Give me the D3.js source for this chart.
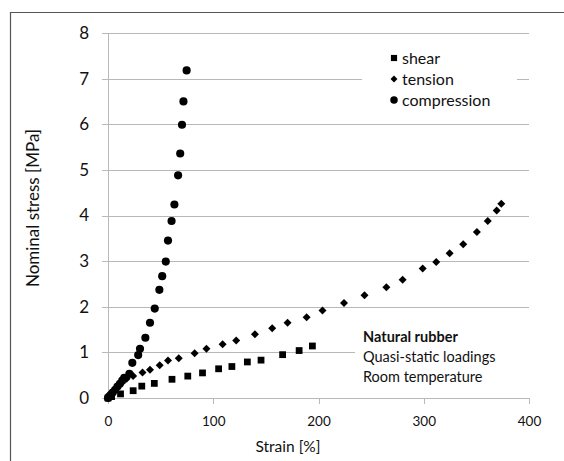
<!DOCTYPE html>
<html>
<head>
<meta charset="utf-8">
<script src="https://cdn.jsdelivr.net/npm/d3@7"></script>
<style>
  html, body { margin: 0; padding: 0; background: #fff; }
  svg { display: block; font-family: Lato, "Open Sans", sans-serif; }
</style>
</head>
<body>
<svg id="chart" width="564" height="461"></svg>
<script>
// Nominal stress vs. strain for natural rubber under three loading modes
const seriesNames = ["shear", "tension", "compression"];

const shearStrain = [0, 3.4, 11.9, 23.9, 32.1, 44.0, 60.8, 75.8, 89.8, 105.1, 117.7, 132.4, 145.4, 165.9, 181.6, 194.2];
const shearStress = [0, 0.03, 0.09, 0.16, 0.26, 0.32, 0.41, 0.48, 0.55, 0.64, 0.69, 0.79, 0.83, 0.95, 1.04, 1.14];

const tensionStrain = [1, 3.4, 7.5, 11.9, 17.7, 23.9, 32.8, 39.9, 49.1, 57.0, 67.2, 82.3, 93.5, 108.9, 121.8, 139.6, 156.0, 170.6, 188.7, 203.8, 224.2, 243.7, 264.5, 279.9, 299.0, 311.9, 324.6, 337.5, 350.5, 360.8, 369.3, 373.7];
const tensionStress = [0.05, 0.12, 0.21, 0.31, 0.42, 0.48, 0.56, 0.62, 0.72, 0.82, 0.87, 0.98, 1.08, 1.18, 1.26, 1.40, 1.53, 1.65, 1.77, 1.92, 2.08, 2.25, 2.43, 2.59, 2.84, 2.98, 3.17, 3.37, 3.64, 3.88, 4.11, 4.26];

const compressionStrain = [0, 1, 2.7, 4.5, 6.8, 9.0, 11.3, 13.5, 15.4, 20.3, 23.1, 28.7, 30.4, 35.5, 39.9, 44.4, 48.8, 51.5, 54.9, 57.0, 60.4, 63.1, 66.6, 68.6, 70.3, 71.7, 74.7];
const compressionStress = [0, 0.03, 0.07, 0.12, 0.18, 0.25, 0.31, 0.38, 0.44, 0.53, 0.77, 0.94, 1.08, 1.32, 1.65, 1.96, 2.37, 2.67, 2.99, 3.45, 3.88, 4.24, 4.88, 5.36, 5.99, 6.50, 7.18];

const xTicks = [0, 100, 200, 300, 400];
const yTicks = [0, 1, 2, 3, 4, 5, 6, 7, 8];
const noteLines = ["Natural rubber", "Quasi-static loadings", "Room temperature"];

const svg = d3.select("#chart");

// outer frame (top and left edges)
svg.append("path")
  .attr("d", "M10.5,461 L10.5,12.5 L564,12.5")
  .attr("fill", "none").attr("stroke", "#555").attr("stroke-width", 1.2);

const x = d3.scaleLinear().domain([0, 400]).range([108, 529]);
const y = d3.scaleLinear().domain([0, 8]).range([398, 33]);

// horizontal gridlines + y tick labels
const yAxis = svg.append("g")
  .attr("transform", `translate(${x(400)},0)`)
  .call(d3.axisLeft(y).tickValues(yTicks).tickSize(x(400) - 102).tickPadding(13).tickFormat(d3.format("d")));
yAxis.select(".domain").remove();
yAxis.selectAll(".tick line").attr("stroke", "#b8b8b8").attr("shape-rendering", "crispEdges");
yAxis.selectAll(".tick text").attr("font-size", 17).attr("fill", "#111")
  .attr("font-family", "Lato, 'Open Sans', sans-serif");

// y axis line
svg.append("line")
  .attr("x1", x(0)).attr("x2", x(0)).attr("y1", y(8)).attr("y2", y(0))
  .attr("stroke", "#b8b8b8").attr("shape-rendering", "crispEdges");

// x axis with ticks pointing down
const xAxis = svg.append("g")
  .attr("transform", `translate(0,${y(0)})`)
  .call(d3.axisBottom(x).tickValues(xTicks).tickSize(6).tickSizeOuter(0).tickPadding(12).tickFormat(d3.format("d")));
xAxis.select(".domain").attr("stroke", "#b8b8b8").attr("shape-rendering", "crispEdges")
  .attr("d", `M102,0.5H${x(400)}`);
xAxis.selectAll(".tick line").attr("stroke", "#b8b8b8").attr("shape-rendering", "crispEdges");
xAxis.selectAll(".tick text").attr("font-size", 13.5).attr("fill", "#111")
  .attr("font-family", "Lato, 'Open Sans', sans-serif");

// white panels behind the legend and the note
svg.append("rect").attr("x", 362).attr("y", 44).attr("width", 155).attr("height", 68).attr("fill", "#fff");
svg.append("rect").attr("x", 355).attr("y", 326).attr("width", 180).attr("height", 60).attr("fill", "#fff");

// axis titles
svg.append("text")
  .attr("x", 288).attr("y", 452).attr("text-anchor", "middle")
  .attr("font-size", 15.5).attr("fill", "#111").text("Strain [%]");
svg.append("text")
  .attr("transform", "translate(39,208) rotate(-90)").attr("text-anchor", "middle")
  .attr("font-size", 17).attr("fill", "#111").text("Nominal stress [MPa]");

// marker shapes
const markers = {
  shear: d3.symbol().type(d3.symbolSquare).size(46)(),
  tension: d3.symbol().type(d3.symbolSquare).size(32)(),
  compression: d3.symbol().type(d3.symbolCircle).size(52)()
};
const rotation = { shear: 0, tension: 45, compression: 0 };

const series = [
  { name: "shear", xs: shearStrain, ys: shearStress },
  { name: "tension", xs: tensionStrain, ys: tensionStress },
  { name: "compression", xs: compressionStrain, ys: compressionStress }
];

series.forEach(s => {
  svg.append("g").selectAll("path")
    .data(s.xs.map((v, i) => [v, s.ys[i]]))
    .join("path")
    .attr("d", markers[s.name])
    .attr("transform", d => `translate(${x(d[0])},${y(d[1])}) rotate(${rotation[s.name]})`)
    .attr("fill", "#000");
});

// legend
const legendMarks = {
  shear: d3.symbol().type(d3.symbolSquare).size(38)(),
  tension: d3.symbol().type(d3.symbolSquare).size(24)(),
  compression: d3.symbol().type(d3.symbolCircle).size(44)()
};
const legend = svg.append("g");
seriesNames.forEach((name, i) => {
  const cy = 58 + i * 21;
  legend.append("path").attr("d", legendMarks[name])
    .attr("transform", `translate(394,${cy}) rotate(${rotation[name]})`).attr("fill", "#000");
  legend.append("text").attr("x", 402).attr("y", cy + 5.5)
    .attr("font-size", 16).attr("fill", "#111").text(name);
});

// note text
noteLines.forEach((t, i) => {
  svg.append("text").attr("x", 363).attr("y", 342 + i * 20)
    .attr("font-size", 14.5).attr("fill", "#111")
    .attr("font-weight", i === 0 ? "bold" : "normal").text(t);
});
</script>
</body>
</html>
